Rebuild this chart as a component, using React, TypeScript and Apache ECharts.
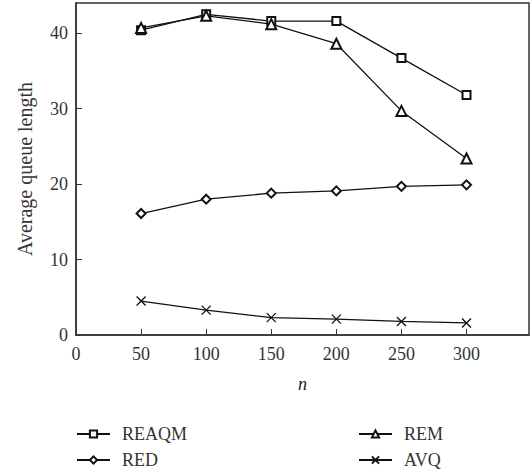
import React, { useEffect, useRef } from "react";
import * as echarts from "echarts";

const xValues = [50, 100, 150, 200, 250, 300];
const reaqm = [40.4, 42.5, 41.6, 41.6, 36.7, 31.8];
const rem = [40.7, 42.3, 41.2, 38.6, 29.7, 23.4];
const red = [16.1, 18.0, 18.8, 19.1, 19.7, 19.9];
const avq = [4.5, 3.3, 2.3, 2.1, 1.8, 1.6];

const FONT = "Liberation Serif";
const crossPath = "path://M0,0L10,10M10,0L0,10";

export default function App() {
  const ref = useRef<HTMLDivElement>(null);
  useEffect(() => {
    document.body.style.margin = "0";
    const chart = echarts.init(ref.current!, null, { renderer: "svg" });
    const mk = (name: string, data: number[], symbol: string, size: number) => ({
      name,
      type: "line",
      data: xValues.map((x, i) => [x, data[i]]),
      symbol,
      symbolSize: size,
      showSymbol: true,
      lineStyle: { color: "#111", width: 1.3 },
      itemStyle: { color: "#111", borderColor: "#111", borderWidth: 1.3 },
      emphasis: { disabled: true },
    });
    const leg = (name: string, left: number, top: number) => ({
      data: [name],
      orient: "vertical",
      left,
      top,
      itemWidth: 33,
      itemHeight: 9,
      textStyle: {
        fontFamily: FONT,
        fontSize: 18,
        lineHeight: 16,
        color: "#333",
        padding: [0, 0, 0, 7],
      },
    });
    chart.setOption({
      animation: false,
      backgroundColor: "#fff",
      textStyle: { fontFamily: FONT },
      grid: {
        left: 76,
        right: 1,
        top: 3,
        bottom: 134,
        show: true,
        borderColor: "#333",
        borderWidth: 1.5,
      },
      xAxis: {
        type: "value",
        min: 0,
        max: 348,
        interval: 50,
        name: "n",
        nameLocation: "middle",
        nameGap: 40,
        nameTextStyle: { fontFamily: FONT, fontSize: 18, fontStyle: "italic", color: "#222" },
        axisLine: { lineStyle: { color: "#333", width: 1.5 } },
        axisTick: { inside: true, length: 6, lineStyle: { color: "#333" } },
        axisLabel: { fontFamily: FONT, fontSize: 18, color: "#333", margin: 10, showMaxLabel: false },
        splitLine: { show: false },
      },
      yAxis: {
        type: "value",
        min: 0,
        max: 44,
        interval: 10,
        name: "Average queue length",
        nameLocation: "middle",
        nameGap: 41,
        nameTextStyle: { fontFamily: FONT, fontSize: 20, color: "#333" },
        axisLine: { show: true, lineStyle: { color: "#333", width: 1.5 } },
        axisTick: { show: true, inside: true, length: 6, lineStyle: { color: "#333" } },
        axisLabel: { fontFamily: FONT, fontSize: 18, color: "#333", margin: 8, showMaxLabel: false },
        splitLine: { show: false },
      },
      legend: [
        leg("REAQM", 71, 420),
        leg("RED", 71, 446),
        leg("REM", 353, 420),
        leg("AVQ", 353, 446),
      ],
      series: [
        mk("REAQM", reaqm, "emptyRect", 8),
        mk("REM", rem, "emptyTriangle", 10),
        mk("RED", red, "emptyDiamond", 9),
        mk("AVQ", avq, crossPath, 9),
      ],
    });
    return () => chart.dispose();
  }, []);
  return <div ref={ref} style={{ width: 530, height: 469 }} />;
}
